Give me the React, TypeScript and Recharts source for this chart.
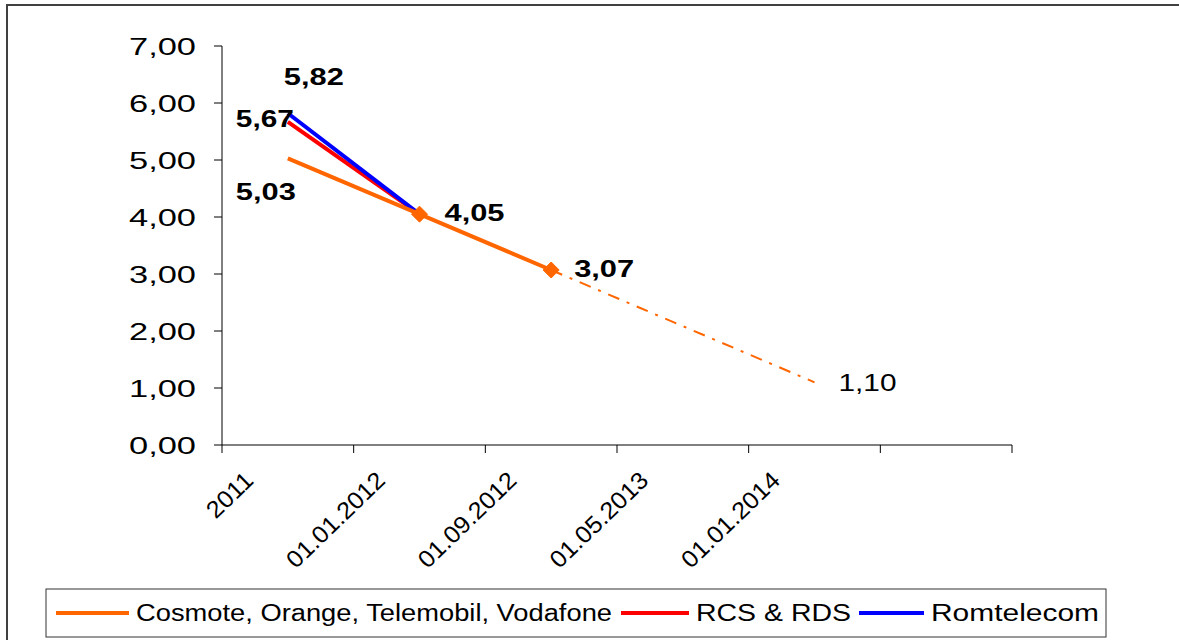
import React from 'react';
import { LineChart, Line, XAxis, YAxis, LabelList } from 'recharts';

const categories = ['2011', '01.01.2012', '01.09.2012', '01.05.2013', '01.01.2014', ''];
const mobileValues = [5.03, 4.05, 3.07, null, null, null];
const rcsValues = [5.67, 4.05, null, null, null, null];
const romtelecomValues = [5.82, 4.05, null, null, null, null];
const forecastValues = [null, null, 3.07, null, 1.1, null];
const yTicks = [0, 1, 2, 3, 4, 5, 6, 7];
const xTicks = [0, 0.5, 1, 1.5, 2, 2.5, 3, 3.5, 4, 4.5, 5, 5.5, 6];
const seriesNames = ['Cosmote, Orange, Telemobil, Vodafone', 'RCS & RDS', 'Romtelecom'];
const seriesColors = ['#FF6600', '#FF0000', '#0000FF'];

const data = categories.map((category, i) => ({
  pos: i + 0.5,
  category,
  mobile: mobileValues[i],
  rcs: rcsValues[i],
  romtelecom: romtelecomValues[i],
  forecast: forecastValues[i],
}));

const fmt = (v: number) => v.toFixed(2).replace('.', ',');
const FONT = '"Liberation Sans", Arial, sans-serif';

const YTick = (props: any) => {
  const { x, y, payload } = props;
  return (
    <text x={x} y={y} dy="0.36em" textAnchor="end" fontFamily={FONT} fontSize={24} fill="#000"
      textLength={67} lengthAdjust="spacingAndGlyphs">
      {fmt(payload.value)}
    </text>
  );
};

const XTick = (props: any) => {
  const { x, y, payload } = props;
  const v = payload.value as number;
  if (Number.isInteger(v)) {
    return <line x1={x} y1={y} x2={x} y2={y + 8} stroke="#000" strokeWidth={1} />;
  }
  const label = categories[Math.floor(v)];
  if (!label) return <g />;
  return (
    <g transform={`translate(${x - 33},${y + 37}) rotate(-44) scale(1.05,1)`}>
      <text x={0} y={0} textAnchor="end" fontFamily={FONT} fontSize={24} fill="#000">
        {label}
      </text>
    </g>
  );
};

const makeLabel = (offsets: Record<number, [number, number, number, boolean]>) => (props: any) => {
  const { x, y, value, index } = props;
  const o = offsets[index];
  if (value == null || !o) return <g key={`l${index}`} />;
  return (
    <text key={`l${index}`} x={x + o[0]} y={y + o[1]} dy="0.36em" textAnchor="middle" fontFamily={FONT}
      fontSize={24} fontWeight={o[3] ? 'bold' : 'normal'} fill="#000" textLength={o[2]}
      lengthAdjust="spacingAndGlyphs">
      {fmt(value)}
    </text>
  );
};

const mobileLabel = makeLabel({ 0: [-22, 33, 60, true], 1: [55, -2, 60, true], 2: [53, -2, 60, true] });
const rcsLabel = makeLabel({ 0: [-23, -3, 58, true] });
const romLabel = makeLabel({ 0: [26, -37, 60, true] });
const forecastLabel = makeLabel({ 4: [53, 0, 58, false] });

const Diamond = (props: any) => {
  const { cx, cy, index } = props;
  if (index !== 1 && index !== 2) return <g key={`d${index}`} />;
  const r = 8;
  return (
    <polygon key={`d${index}`} points={`${cx},${cy - r} ${cx + r},${cy} ${cx},${cy + r} ${cx - r},${cy}`}
      fill="#FF6600" stroke="#FF6600" />
  );
};

const LegendBox = () => {
  const items = [
    { line: [11, 84], text: 91, len: 476 },
    { line: [576, 644], text: 651, len: 155 },
    { line: [814, 879], text: 886, len: 168 },
  ];
  return (
    <svg width={1062} height={50} style={{ position: 'absolute', left: 45, top: 588 }}>
      <rect x={1} y={1} width={1060} height={48} fill="#fff" stroke="#333" strokeWidth={1} />
      {items.map((it, i) => (
        <g key={i}>
          <line x1={it.line[0]} y1={25} x2={it.line[1]} y2={25} stroke={seriesColors[i]} strokeWidth={4} />
          <text x={it.text} y={25} dy="0.36em" fontFamily={FONT} fontSize={23} fill="#000"
            textLength={it.len} lengthAdjust="spacingAndGlyphs">
            {seriesNames[i]}
          </text>
        </g>
      ))}
    </svg>
  );
};

export default function App() {
  return (
    <div style={{ position: 'absolute', left: 0, top: 0, width: 1179, height: 640, background: '#fff', overflow: 'hidden' }}>
      <div style={{ position: 'absolute', left: 6, top: 4, width: 1300, height: 800, borderTop: '2px solid #404040', borderLeft: '2px solid #404040' }} />
      <div style={{ position: 'absolute', left: 0, top: 0 }}>
        <LineChart width={1179} height={640} data={data} margin={{ top: 46, right: 167, bottom: 95, left: 0 }}>
          <XAxis dataKey="pos" type="number" domain={[0, 6]} ticks={xTicks} interval={0} height={100}
            tickLine={false} tickSize={0} tickMargin={0} tick={<XTick />} axisLine={{ stroke: '#000' }} />
          <YAxis type="number" domain={[0, 7]} ticks={yTicks} interval={0} width={222} tickSize={8}
            tickMargin={18} tick={<YTick />} axisLine={{ stroke: '#000' }} tickLine={{ stroke: '#000' }} />
          <Line dataKey="rcs" stroke={seriesColors[1]} strokeWidth={4} dot={false} activeDot={false}
            isAnimationActive={false}>
            <LabelList dataKey="rcs" content={rcsLabel} />
          </Line>
          <Line dataKey="romtelecom" stroke={seriesColors[2]} strokeWidth={4} dot={false} activeDot={false}
            isAnimationActive={false}>
            <LabelList dataKey="romtelecom" content={romLabel} />
          </Line>
          <Line dataKey="forecast" stroke={seriesColors[0]} strokeWidth={2} strokeDasharray="12 8 3 8"
            connectNulls dot={false} activeDot={false} isAnimationActive={false}>
            <LabelList dataKey="forecast" content={forecastLabel} />
          </Line>
          <Line dataKey="mobile" stroke={seriesColors[0]} strokeWidth={4} dot={Diamond} activeDot={false}
            isAnimationActive={false}>
            <LabelList dataKey="mobile" content={mobileLabel} />
          </Line>
        </LineChart>
      </div>
      <LegendBox />
    </div>
  );
}
